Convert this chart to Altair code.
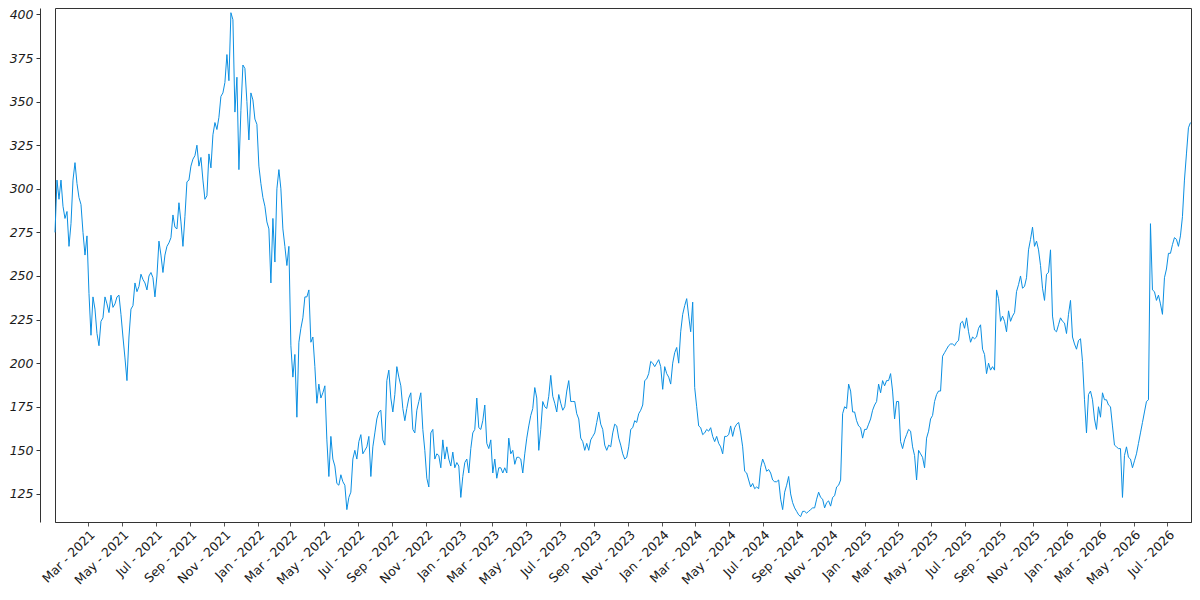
import altair as alt
import pandas as pd

# Values, in time order (evenly spaced samples)
values_a = [275, 305, 294, 305, 290, 283, 287, 267, 280, 305, 315, 303, 295, 291, 275, 262, 273, 240, 216, 238,
            231, 217, 210, 224, 226, 238, 234, 229, 239, 232, 234, 238, 239, 228, 215, 203, 190, 215, 231, 233,
            246, 241, 244, 251, 248, 246, 242, 250, 252, 249, 238, 250, 270, 262, 252, 262, 267, 269, 272, 285,
            278, 277, 292, 281, 267, 284, 304, 305, 313, 317, 319, 325, 313, 318, 305, 294, 296, 320, 312, 331,
            338, 334, 341, 353, 355, 361, 377, 362, 401, 397, 344, 364, 311, 345, 371]
values_b = [369, 350, 328, 355, 351, 340, 337, 313, 303, 295, 290, 281, 277, 246, 283, 258, 300, 311, 300, 277,
            267, 256, 267, 210, 192, 205, 169, 212, 220, 226, 238, 238, 242, 212, 215, 198, 177, 188, 180, 183,
            187, 156, 135, 158, 145, 141, 131, 130, 136, 132, 130, 116, 123, 126, 145, 150, 145, 155, 159, 148,
            150, 152, 158, 135, 152, 160, 168, 172, 173, 156, 153, 190, 196, 180, 172, 182, 198, 192, 187, 174,
            167, 174, 180, 183, 162, 160, 173, 178, 183, 162, 150, 134, 129, 160, 162]
values_c = [145, 148, 147, 140, 156, 145, 152, 145, 141, 149, 140, 143, 141, 123, 135, 143, 145, 137, 151, 160,
            162, 180, 163, 162, 167, 176, 154, 151, 156, 137, 145, 134, 140, 140, 137, 140, 137, 157, 148, 150,
            142, 146, 146, 145, 137, 148, 157, 164, 170, 174, 186, 180, 150, 162, 178, 175, 174, 181, 193, 181,
            177, 172, 182, 177, 173, 175, 184, 190, 178, 178, 178, 171, 168, 157, 155, 150, 154, 150, 156, 158,
            160, 166, 172, 165, 162, 153, 150, 153, 152, 160, 165, 164, 157, 153, 148]
values_d = [145, 146, 152, 162, 163, 167, 166, 171, 173, 176, 190, 191, 194, 201, 200, 198, 200, 202, 198, 185,
            198, 194, 192, 188, 200, 206, 209, 200, 218, 228, 233, 237, 227, 218, 235, 186, 175, 164, 163, 159,
            160, 162, 161, 163, 158, 155, 158, 154, 152, 148, 158, 158, 159, 164, 158, 163, 165, 166, 160, 152,
            138, 137, 133, 129, 131, 128, 129, 128, 140, 145, 142, 138, 139, 137, 133, 132, 132, 133, 122, 116,
            126, 130, 135, 125, 120, 117, 115, 113, 112, 115, 115, 114, 115, 116, 117]
values_e = [117, 122, 126, 123, 122, 117, 120, 121, 118, 123, 124, 129, 130, 133, 171, 175, 174, 188, 184, 172,
            172, 167, 164, 163, 157, 162, 162, 165, 168, 173, 176, 178, 188, 183, 190, 187, 190, 190, 194, 184,
            168, 178, 178, 155, 151, 156, 159, 162, 161, 152, 147, 133, 150, 148, 146, 140, 157, 161, 168, 170,
            178, 182, 184, 184, 204, 206, 208, 210, 211, 211, 210, 212, 213, 223, 224, 220, 226, 218, 212, 215,
            214, 215, 220, 222, 208, 205, 194, 200, 196, 198, 196, 242, 237, 224, 227]
values_f = [224, 218, 230, 224, 227, 229, 241, 245, 250, 243, 244, 249, 265, 271, 278, 267, 270, 265, 256, 243,
            236, 251, 252, 265, 227, 219, 218, 222, 226, 224, 223, 217, 228, 236, 215, 211, 208, 213, 214, 201,
            179, 160, 182, 184, 179, 168, 162, 175, 169, 183, 179, 179, 176, 175, 164, 153, 152, 151, 151, 123,
            147, 152, 146, 145, 140, 144, 148, 154, 160, 166, 172, 178, 179, 280, 242, 241, 236, 239, 234, 228,
            249, 254, 263, 263, 268, 272, 271, 267, 273, 284, 305, 320, 335, 338]

first_date = "2020-12-31 12:00"
last_date = "2026-08-11 12:00"

tick_months = ["2021-03", "2021-05", "2021-07", "2021-09", "2021-11",
               "2022-01", "2022-03", "2022-05", "2022-07", "2022-09", "2022-11",
               "2023-01", "2023-03", "2023-05", "2023-07", "2023-09", "2023-11",
               "2024-01", "2024-03", "2024-05", "2024-07", "2024-09", "2024-11",
               "2025-01", "2025-03", "2025-05", "2025-07", "2025-09", "2025-11",
               "2026-01", "2026-03", "2026-05", "2026-07"]
y_ticks = [125, 150, 175, 200, 225, 250, 275, 300, 325, 350, 375, 400]
y_domain = [108.9, 403.7]

values = values_a + values_b + values_c + values_d + values_e + values_f
dates = pd.date_range(first_date, last_date, periods=len(values))
df = pd.DataFrame({"date": dates.strftime("%Y-%m-%dT%H:%M:%S"), "value": values})

x_values = [alt.DateTime(year=int(m[:4]), month=int(m[5:]), date=1) for m in tick_months]

chart = alt.Chart(df).mark_line(color="#0b8fe2", strokeWidth=1).encode(
    x=alt.X("date:T", title=None,
            scale=alt.Scale(domain=[alt.DateTime(year=2020, month=12, date=31, hours=12),
                                    alt.DateTime(year=2026, month=8, date=12, hours=12)]),
            axis=alt.Axis(values=x_values, format="%b - %Y", labelAngle=-45,
                          labelAlign="right", labelBaseline="top", labelPadding=2,
                          labelFont="DejaVu Sans", labelFontSize=12.5, labelColor="#1a1a1a",
                          labelOverlap=False, labelFlush=False, labelBound=False,
                          tickSize=4, tickColor="#555", domainColor="#333", grid=False)),
    y=alt.Y("value:Q", title=None,
            scale=alt.Scale(domain=y_domain, nice=False, zero=False),
            axis=alt.Axis(values=y_ticks, offset=15, labelFont="DejaVu Sans",
                          labelFontStyle="italic", labelFontSize=12.5, labelColor="#1a1a1a",
                          labelPadding=3, tickSize=4, tickColor="#333", domainColor="#333",
                          grid=False, labelOverlap=False, labelFlush=False, labelBound=False)),
).properties(
    width=1136, height=514,
    autosize=alt.AutoSizeParams(type="none"),
    padding={"left": 47, "top": 0, "right": 1, "bottom": 70},
).configure_view(stroke="#333", strokeWidth=1)

chart.save("out.html", embed_options={"renderer": "svg", "actions": False})
